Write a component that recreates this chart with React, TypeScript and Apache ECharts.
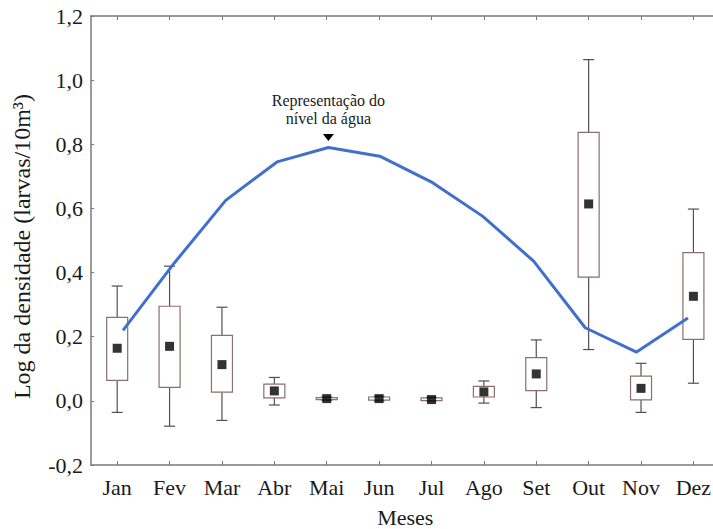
import React, { useEffect, useRef } from "react";
import * as echarts from "echarts";

const months = ["Jan", "Fev", "Mar", "Abr", "Mai", "Jun", "Jul", "Ago", "Set", "Out", "Nov", "Dez"];
const whiskerMin = [-0.036, -0.079, -0.061, -0.013, 0.002, 0.0, 0.0, -0.007, -0.021, 0.16, -0.036, 0.055];
const q1 = [0.064, 0.042, 0.027, 0.009, 0.004, 0.002, 0.001, 0.012, 0.032, 0.386, 0.003, 0.192];
const q3 = [0.26, 0.295, 0.204, 0.052, 0.01, 0.012, 0.009, 0.045, 0.135, 0.837, 0.077, 0.462];
const whiskerMax = [0.358, 0.42, 0.292, 0.073, 0.012, 0.014, 0.011, 0.062, 0.19, 1.064, 0.117, 0.598];
const means = [0.164, 0.17, 0.113, 0.031, 0.007, 0.007, 0.004, 0.028, 0.084, 0.614, 0.039, 0.326];
const waterLevel = [0.22, 0.43, 0.625, 0.745, 0.79, 0.763, 0.683, 0.576, 0.435, 0.228, 0.152, 0.258];
const yTicks = { min: -0.2, max: 1.2, interval: 0.2 };

const FONT = "Liberation Serif";
const AXIS_COLOR = "#7a7a7a";
const TEXT_COLOR = "#1a1a1a";

export default function App() {
  const ref = useRef<HTMLDivElement>(null);
  useEffect(() => {
    if (!ref.current) return;
    const chart = echarts.init(ref.current, undefined, { renderer: "svg" });
    const boxData = months.map((_, i) => [i, whiskerMin[i], q1[i], q3[i], whiskerMax[i]]);
    const option: any = {
      animation: false,
      backgroundColor: "#fff",
      textStyle: { fontFamily: FONT },
      grid: [
        { left: 91, top: 16, width: 628.6, height: 449, outerBoundsMode: "none", containLabel: false },
        { left: 97.3, top: 16, width: 616.3, height: 449, outerBoundsMode: "none", containLabel: false },
      ],
      xAxis: [
        {
          gridIndex: 0,
          type: "category",
          data: months,
          position: "bottom",
          axisLine: { show: true, onZero: false, lineStyle: { color: AXIS_COLOR, width: 1.5 } },
          axisTick: { show: true, inside: true, alignWithLabel: true, length: 4, lineStyle: { color: AXIS_COLOR } },
          axisLabel: { fontSize: 22, fontFamily: FONT, color: TEXT_COLOR, margin: 11 },
          splitLine: { show: false },
          name: "Meses",
          nameLocation: "middle",
          nameGap: 41,
          nameMoveOverlap: false,
          nameTextStyle: { fontSize: 22, fontFamily: FONT, color: TEXT_COLOR },
        },
        {
          gridIndex: 0,
          type: "category",
          data: months,
          position: "top",
          axisLine: { show: true, onZero: false, lineStyle: { color: AXIS_COLOR, width: 1.5 } },
          axisTick: { show: true, inside: true, alignWithLabel: true, length: 4, lineStyle: { color: AXIS_COLOR } },
          axisLabel: { show: false },
          splitLine: { show: false },
        },
        { gridIndex: 1, type: "category", data: months, show: false },
      ],
      yAxis: [
        {
          gridIndex: 0,
          type: "value",
          min: yTicks.min,
          max: yTicks.max,
          interval: yTicks.interval,
          axisLine: { show: true, onZero: false, lineStyle: { color: AXIS_COLOR, width: 1.5 } },
          axisTick: { show: true, inside: true, length: 3, lineStyle: { color: AXIS_COLOR } },
          axisLabel: {
            fontSize: 22,
            fontFamily: FONT,
            color: TEXT_COLOR,
            margin: 8,
            formatter: (v: number) => v.toFixed(1).replace(".", ","),
          },
          splitLine: { show: false },
          name: "Log da densidade (larvas/10m³)",
          nameLocation: "middle",
          nameGap: 57,
          nameRotate: 90,
          nameMoveOverlap: false,
          nameTextStyle: { fontSize: 24, fontFamily: FONT, color: TEXT_COLOR, padding: [0, 12, 0, 0] },
        },
        { gridIndex: 1, type: "value", min: yTicks.min, max: yTicks.max, show: false },
      ],
      series: [
        {
          type: "custom",
          xAxisIndex: 0,
          yAxisIndex: 0,
          data: boxData,
          z: 2,
          renderItem: (params: any, api: any) => {
            const x = api.value(0);
            const pMin = api.coord([x, api.value(1)]);
            const pQ1 = api.coord([x, api.value(2)]);
            const pQ3 = api.coord([x, api.value(3)]);
            const pMax = api.coord([x, api.value(4)]);
            const cx = pMin[0];
            const bw = 21;
            const cw = 11;
            const wStyle = { stroke: "#505050", lineWidth: 1.2 };
            return {
              type: "group",
              children: [
                { type: "line", shape: { x1: cx, y1: pMax[1], x2: cx, y2: pQ3[1] }, style: wStyle },
                { type: "line", shape: { x1: cx, y1: pQ1[1], x2: cx, y2: pMin[1] }, style: wStyle },
                { type: "line", shape: { x1: cx - cw / 2, y1: pMax[1], x2: cx + cw / 2, y2: pMax[1] }, style: wStyle },
                { type: "line", shape: { x1: cx - cw / 2, y1: pMin[1], x2: cx + cw / 2, y2: pMin[1] }, style: wStyle },
                {
                  type: "rect",
                  shape: { x: cx - bw / 2, y: pQ3[1], width: bw, height: Math.max(pQ1[1] - pQ3[1], 2) },
                  style: { fill: "#fff", stroke: "#8a6f6f", lineWidth: 1.2 },
                },
              ],
            };
          },
        },
        {
          type: "scatter",
          xAxisIndex: 0,
          yAxisIndex: 0,
          data: means,
          symbol: "rect",
          symbolSize: 9,
          itemStyle: { color: "#000" },
          z: 3,
        },
        {
          type: "line",
          xAxisIndex: 2,
          yAxisIndex: 1,
          data: waterLevel,
          symbol: "none",
          lineStyle: { color: "#4170CC", width: 3 },
          z: 4,
          markPoint: {
            symbol: "triangle",
            symbolRotate: 180,
            symbolSize: [11, 7],
            symbolOffset: [0, -10],
            itemStyle: { color: "#000" },
            label: {
              show: true,
              position: "top",
              distance: 6,
              formatter: "Representação do\nnível da água",
              fontSize: 16,
              lineHeight: 18,
              fontFamily: FONT,
              color: TEXT_COLOR,
            },
            data: [{ coord: [4, waterLevel[4]] }],
          },
        },
      ],
    };
    chart.setOption(option);
    return () => chart.dispose();
  }, []);
  return (
    <div
      ref={ref}
      style={{ position: "fixed", left: 0, top: 0, width: 713, height: 529, background: "#fff" }}
    />
  );
}
